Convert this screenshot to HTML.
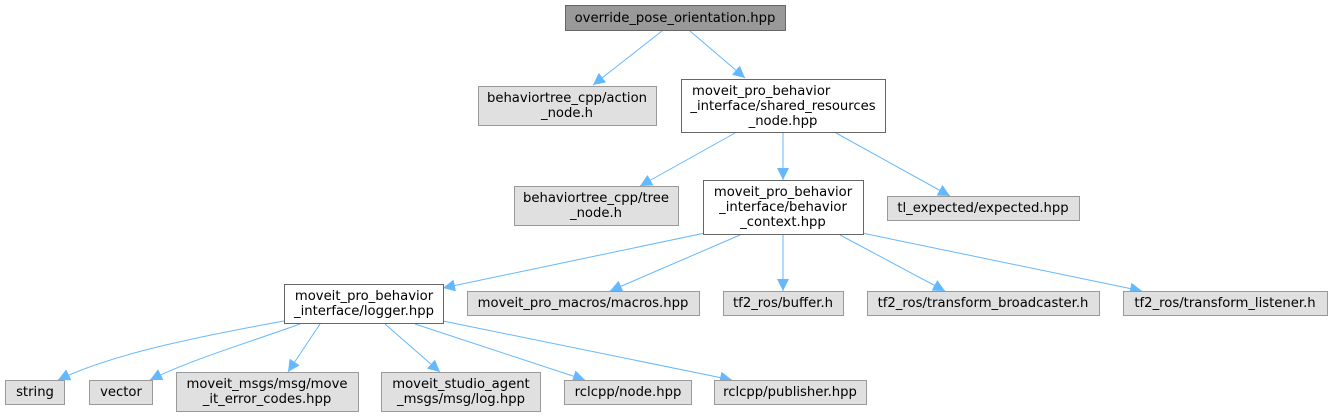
<!DOCTYPE html>
<html><head><meta charset="utf-8"><style>
html,body{margin:0;padding:0;background:#fff;}
svg{display:block;}
text{font-family:"DejaVu Sans","Liberation Sans",sans-serif;font-size:13.2px;fill:#000;}
</style></head><body>
<svg width="1332" height="417" viewBox="0 0 1332 417" xmlns="http://www.w3.org/2000/svg">
<defs>
<marker id="a" viewBox="0 0 10 10" refX="10" refY="5" markerWidth="12" markerHeight="12" markerUnits="userSpaceOnUse" orient="auto">
<path d="M0,0 L10,5 L0,10 z" fill="#63b8ff"/>
</marker>
</defs>
<g stroke="#63b8ff" stroke-width="1" fill="none" marker-end="url(#a)">
<path d="M662,31 L593,85"/>
<path d="M690,31 L745,78"/>
<path d="M735,133 L640,186"/>
<path d="M783,133 L783,180"/>
<path d="M836,133 L950,196"/>
<path d="M705,233 L443,288"/>
<path d="M740,235 L610,291"/>
<path d="M783,235 L783,291"/>
<path d="M840,235 L945,291"/>
<path d="M862,233 L1142,291"/>
<path d="M284,321 C190,338 110,355 58,380"/>
<path d="M300,324 C250,342 190,360 150,380"/>
<path d="M320,324 L288,372"/>
<path d="M385,324 L440,372"/>
<path d="M415,324 L585,380"/>
<path d="M443,321 L732,380"/>
</g>
<g stroke-width="1">
<rect x="565.5" y="5.5" width="220" height="25" fill="#999" stroke="#666"/>
<rect x="478.5" y="86.5" width="178" height="39" fill="#e0e0e0" stroke="#999"/>
<rect x="681.5" y="79.5" width="204" height="53" fill="#fff" stroke="#666"/>
<rect x="514.5" y="186.5" width="164" height="39" fill="#e0e0e0" stroke="#999"/>
<rect x="703.5" y="180.5" width="160" height="54" fill="#fff" stroke="#666"/>
<rect x="887.5" y="196.5" width="192" height="24" fill="#e0e0e0" stroke="#999"/>
<rect x="284.5" y="284.5" width="159" height="39" fill="#fff" stroke="#666"/>
<rect x="467.5" y="291.5" width="232" height="24" fill="#e0e0e0" stroke="#999"/>
<rect x="723.5" y="291.5" width="120" height="24" fill="#e0e0e0" stroke="#999"/>
<rect x="867.5" y="291.5" width="232" height="24" fill="#e0e0e0" stroke="#999"/>
<rect x="1123.5" y="291.5" width="204" height="24" fill="#e0e0e0" stroke="#999"/>
<rect x="5.5" y="380.5" width="59" height="24" fill="#e0e0e0" stroke="#999"/>
<rect x="89.5" y="380.5" width="63" height="24" fill="#e0e0e0" stroke="#999"/>
<rect x="176.5" y="372.5" width="182" height="39" fill="#e0e0e0" stroke="#999"/>
<rect x="381.5" y="372.5" width="159" height="39" fill="#e0e0e0" stroke="#999"/>
<rect x="564.5" y="380.5" width="127" height="24" fill="#e0e0e0" stroke="#999"/>
<rect x="714.5" y="380.5" width="152" height="24" fill="#e0e0e0" stroke="#999"/>
</g>
<g text-anchor="middle">
<text x="675" y="22">override_pose_orientation.hpp</text>
<text x="567" y="102">behaviortree_cpp/action</text>
<text x="567" y="117">_node.h</text>
<text x="783" y="110">_interface/shared_resources</text>
<text x="783" y="125">_node.hpp</text>
<text x="596" y="202">behaviortree_cpp/tree</text>
<text x="596" y="217">_node.h</text>
<text x="783" y="196">moveit_pro_behavior</text>
<text x="783" y="211">_interface/behavior</text>
<text x="783" y="226">_context.hpp</text>
<text x="983" y="212">tl_expected/expected.hpp</text>
<text x="364" y="300">moveit_pro_behavior</text>
<text x="364" y="315">_interface/logger.hpp</text>
<text x="583" y="307">moveit_pro_macros/macros.hpp</text>
<text x="783" y="307">tf2_ros/buffer.h</text>
<text x="983" y="307">tf2_ros/transform_broadcaster.h</text>
<text x="1225" y="307">tf2_ros/transform_listener.h</text>
<text x="35" y="396">string</text>
<text x="121" y="396">vector</text>
<text x="267" y="388">moveit_msgs/msg/move</text>
<text x="267" y="403">_it_error_codes.hpp</text>
<text x="461" y="388">moveit_studio_agent</text>
<text x="461" y="403">_msgs/msg/log.hpp</text>
<text x="628" y="396">rclcpp/node.hpp</text>
<text x="790" y="396">rclcpp/publisher.hpp</text>
</g>
<text x="692" y="95" text-anchor="start">moveit_pro_behavior</text>
</svg>
</body></html>
